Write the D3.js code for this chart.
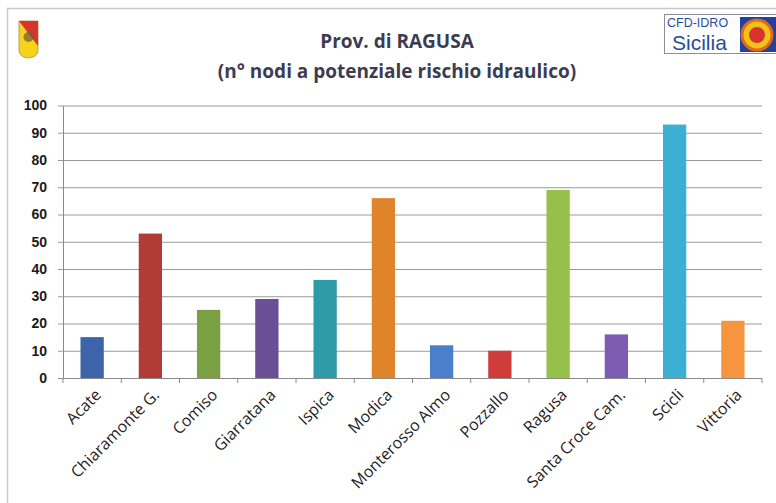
<!DOCTYPE html>
<html><head><meta charset="utf-8">
<script src="https://cdn.jsdelivr.net/npm/d3@7"></script>
<style>body{margin:0;background:#fff;}svg{display:block;}</style>
</head><body>
<script>
const categories = ["Acate","Chiaramonte G.","Comiso","Giarratana","Ispica","Modica","Monterosso Almo","Pozzallo","Ragusa","Santa Croce Cam.","Scicli","Vittoria"];
const values = [15,53,25,29,36,66,12,10,69,16,93,21];
const barColors = ["#3d64a8","#b03b37","#7ba044","#6b4f96","#2e9aa8","#e0842c","#4a7fcb","#cf3c3a","#97c04b","#7e5cb2","#3bb0d2","#f7943f"];
const yTicks = [0,10,20,30,40,50,60,70,80,90,100];
const titleLines = ["Prov. di RAGUSA","(n° nodi a potenziale rischio idraulico)"];

const W=776,H=503;
const svg=d3.select("body").append("svg").attr("width",W).attr("height",H);
svg.append("rect").attr("width",W).attr("height",H).attr("fill","#fff");
// frame
svg.append("rect").attr("x",7.5).attr("y",8.5).attr("width",820).attr("height",520)
  .attr("fill","none").attr("stroke","#c9c9c9").attr("stroke-width",1.5);

const pLeft=63,pRight=762,pTop=105.5,pBottom=378;
const x=d3.scaleBand().domain(categories).range([pLeft,pRight]).paddingInner(0.6).paddingOuter(0.3);
const y=d3.scaleLinear().domain([0,100]).range([pBottom,pTop]);

// gridlines
svg.append("g").selectAll("line").data(yTicks).join("line")
  .attr("x1",pLeft-5).attr("x2",pRight).attr("y1",d=>y(d)+0.5).attr("y2",d=>y(d)+0.5)
  .attr("stroke",d=>d===0?"#8a8a8a":"#9a9a9a").attr("stroke-width",1);
// y axis
const yAxis=d3.axisLeft(y).tickValues(yTicks).tickSize(0).tickPadding(16);
const ga=svg.append("g").attr("transform",`translate(${pLeft},0)`).call(yAxis);
ga.select(".domain").attr("stroke","#8a8a8a");
ga.selectAll("text").attr("font-family","'Liberation Sans',Arial,sans-serif").attr("font-weight","bold")
  .attr("font-size",14).attr("fill","#1a1a1a");

// bars
svg.append("g").selectAll("rect").data(values).join("rect")
  .attr("x",(d,i)=>x(categories[i])).attr("width",x.bandwidth())
  .attr("y",d=>y(d)).attr("height",d=>y(0)-y(d))
  .attr("fill",(d,i)=>barColors[i]);

// x ticks at category boundaries
const step=x.step();
const bounds=categories.map(c=>x(c)+x.bandwidth()/2-step/2).concat([pRight]);
svg.append("g").selectAll("line").data(bounds).join("line")
  .attr("x1",d=>d).attr("x2",d=>d).attr("y1",pBottom).attr("y2",pBottom+5)
  .attr("stroke","#8a8a8a");

// x labels
svg.append("g").selectAll("text").data(categories).join("text")
  .attr("transform",c=>`translate(${x(c)+x.bandwidth()/2+6},${pBottom+14}) rotate(-45)`)
  .attr("text-anchor","end").attr("dy","0.35em")
  .attr("font-family","'Open Sans',sans-serif").attr("font-size",16).attr("fill","#1e1e1e")
  .text(c=>c);

// title
svg.append("g").selectAll("text").data(titleLines).join("text")
  .attr("x",397).attr("y",(d,i)=>48+i*30).attr("text-anchor","middle")
  .attr("font-family","'Open Sans',sans-serif").attr("font-weight","bold").attr("font-size",19)
  .attr("fill","#3c3c50").text(d=>d);

// Sicily shield
const sh=svg.append("g");
sh.append("path").attr("d","M19,21 L38,21 L38,50 Q38,57 28.5,58 Q19,57 19,50 Z").attr("fill","#f5d21c").attr("stroke","#b9a060");
sh.append("path").attr("d","M19,21 L38,21 L38,46 Z").attr("fill","#d9342b");
sh.append("circle").attr("cx",28.5).attr("cy",37).attr("r",5).attr("fill","#6b5a3a").attr("opacity",0.7);

// CFD-IDRO logo
const lg=svg.append("g");
lg.append("rect").attr("x",664.5).attr("y",14.5).attr("width",120).attr("height",39).attr("fill","#fff").attr("stroke","#8c8c9c");
lg.append("text").attr("x",667).attr("y",27).attr("font-family","'Liberation Sans',Arial,sans-serif").attr("font-size",12.5).attr("fill","#1f4e9c").text("CFD-IDRO");
lg.append("text").attr("x",672).attr("y",50).attr("font-family","'Liberation Sans',Arial,sans-serif").attr("font-size",21).attr("fill","#1f4e9c").text("Sicilia");
lg.append("rect").attr("x",740).attr("y",17).attr("width",36).attr("height",35).attr("fill","#2440a0");
lg.append("circle").attr("cx",757).attr("cy",35).attr("r",15).attr("fill","#f2c21c").attr("stroke","#e06a1a").attr("stroke-width",3);
lg.append("circle").attr("cx",757).attr("cy",35).attr("r",8).attr("fill","#d9342b");
</script>
</body></html>
